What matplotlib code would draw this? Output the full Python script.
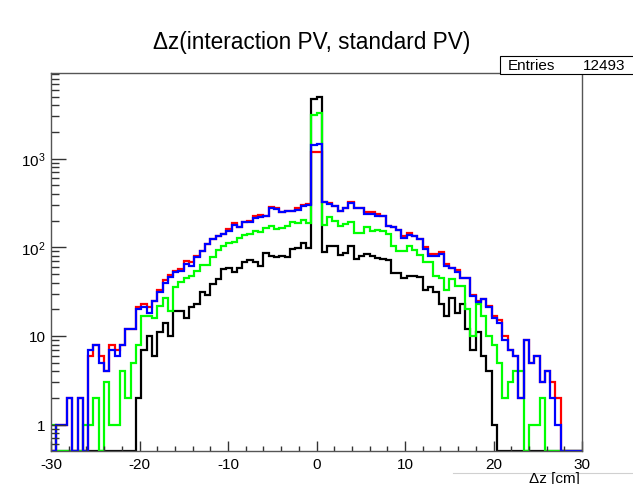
import numpy as np
import matplotlib
matplotlib.use("Agg")
import matplotlib.pyplot as plt
from matplotlib.ticker import MultipleLocator, LogLocator, NullFormatter
from matplotlib.patches import Rectangle
from matplotlib.lines import Line2D

plt.rcParams["font.family"] = ["Liberation Sans", "DejaVu Sans"]
plt.rcParams["mathtext.fontset"] = "custom"
plt.rcParams["mathtext.rm"] = "Liberation Sans"
plt.rcParams["mathtext.it"] = "Liberation Sans:italic"
plt.rcParams["axes.unicode_minus"] = False

# histogram: 100 bins from -30 to 30 cm
x_lo, x_hi, n_bins = -30.0, 30.0, 100

black = [0, 0, 0, 0, 0, 0, 0, 0, 0, 0,
         0, 0, 0, 0, 0, 0, 2, 7, 10, 6,
         11, 14, 10, 19, 19, 16, 21, 23, 31, 29,
         39, 44, 57, 59, 52, 58, 68, 72, 69, 62,
         87, 79, 77, 80, 77, 96, 99, 112, 98, 4730,
         4990, 89, 104, 104, 81, 87, 104, 73, 79, 84,
         80, 75, 74, 71, 51, 51, 45, 48, 48, 46,
         33, 36, 31, 23, 17, 27, 18, 23, 12, 7,
         11, 6, 4, 1, 0, 0, 0, 0, 0, 0,
         0, 0, 0, 0, 0, 0, 0, 0, 0, 0]

green = [1, 0, 0, 0, 0, 0, 1, 1, 2, 0,
         3, 1, 1, 4, 2, 5, 8, 17, 17, 16,
         22, 27, 19, 36, 41, 45, 48, 54, 63, 63,
         77, 94, 104, 112, 115, 127, 139, 143, 152, 147,
         167, 176, 161, 167, 176, 191, 188, 205, 188, 3077,
         3293, 178, 218, 200, 173, 183, 191, 144, 144, 168,
         154, 158, 152, 143, 104, 91, 91, 104, 94, 81,
         68, 68, 48, 45, 33, 44, 37, 37, 20, 10,
         23, 17, 10, 8, 5, 2, 3, 4, 4, 0,
         1, 1, 2, 0, 0, 0, 0, 0, 0, 0]

blue = [0, 1, 1, 2, 0, 2, 0, 7, 8, 5,
        4, 7, 6, 8, 12, 12, 20, 21, 18, 25,
        31, 40, 46, 52, 54, 65, 62, 77, 91, 108,
        123, 135, 141, 154, 179, 168, 191, 191, 212, 218,
        227, 275, 270, 247, 258, 258, 265, 289, 300, 1413,
        1460, 321, 306, 289, 258, 281, 315, 275, 275, 240,
        240, 228, 224, 174, 171, 158, 128, 139, 135, 123,
        96, 79, 79, 84, 62, 58, 52, 45, 45, 28,
        24, 26, 21, 16, 14, 9, 7, 6, 2, 9,
        5, 6, 3, 4, 2, 1, 0, 0, 0, 0]

red = [0, 1, 1, 2, 0, 2, 0, 6, 8, 6,
       4, 8, 7, 8, 12, 12, 21, 23, 21, 25,
       33, 43, 49, 54, 57, 70, 68, 80, 91, 108,
       123, 135, 141, 160, 187, 168, 191, 200, 225, 230,
       227, 285, 280, 247, 258, 258, 275, 300, 310, 1190,
       1190, 321, 318, 289, 258, 281, 327, 275, 275, 250,
       250, 235, 224, 174, 171, 158, 135, 145, 135, 123,
       100, 85, 85, 88, 65, 58, 55, 45, 45, 29,
       25, 26, 22, 17, 15, 10, 7, 6, 2, 9,
       5, 6, 3, 4, 3, 2, 0, 0, 0, 0]

entries = 12493
y_lo, y_hi = 0.505, 9230

edges = np.linspace(x_lo, x_hi, n_bins + 1)

fig = plt.figure(figsize=(6.33, 4.85), dpi=100)
ax = fig.add_axes([51 / 633, 1 - 452 / 485, 531 / 633, 378 / 485])

for vals, col in [(black, "black"), (green, "#00ff00"), (red, "#ff0000"), (blue, "#0000ff")]:
    h = np.asarray(vals, dtype=float)
    h = np.where(h > 0, h, y_lo)  # empty bins sit on the bottom axis like ROOT
    ax.stairs(h, edges, baseline=None, color=col, lw=1.6)

ax.set_yscale("log")
ax.set_xlim(x_lo, x_hi)
ax.set_ylim(y_lo, y_hi)

ax.xaxis.set_major_locator(MultipleLocator(10))
ax.xaxis.set_minor_locator(MultipleLocator(2))
ax.set_yticks([1, 10, 100, 1000])
ax.set_yticklabels(["1", "10", "$10^{2}$", "$10^{3}$"])
ax.yaxis.set_minor_locator(LogLocator(base=10, subs=np.arange(2, 10)))
ax.yaxis.set_minor_formatter(NullFormatter())

ax.tick_params(axis="x", which="major", direction="in", length=7, width=1,
               labelsize=11, pad=4, top=False, color="#333333")
ax.tick_params(axis="x", which="minor", direction="in", length=3.6, width=1,
               top=False, color="#333333")
ax.tick_params(axis="y", which="major", direction="in", length=11, width=1,
               labelsize=11, pad=4, right=False, color="#333333")
ax.tick_params(axis="y", which="minor", direction="in", length=5.5, width=1,
               right=False, color="#333333")
for sp in ax.spines.values():
    sp.set_color("#555555")
    sp.set_linewidth(1.0)

fig.text(312 / 633, 1 - 42 / 485, "\u0394z(interaction PV, standard PV)",
         ha="center", va="center", fontsize=16.3)

# stats box
fig.patches.append(Rectangle((500 / 633, 1 - 75 / 485), 140 / 633, 18 / 485,
                             transform=fig.transFigure, facecolor="white",
                             edgecolor="black", lw=0.8, zorder=5))
fig.text(508 / 633, 1 - 66 / 485, "Entries", ha="left", va="center",
         fontsize=11, zorder=6)
fig.text(625 / 633, 1 - 66 / 485, str(entries), ha="right", va="center",
         fontsize=11, zorder=6)

# faint pad edge under the axis title
fig.lines.append(Line2D([453 / 633, 1.0], [1 - 474 / 485, 1 - 474 / 485],
                        transform=fig.transFigure, color="#d0d0d0", lw=0.8))
fig.text(580 / 633, 1 - 479 / 485, "\u0394z [cm]", ha="right", va="center",
         fontsize=11)

fig.savefig("out.png", dpi=100)
